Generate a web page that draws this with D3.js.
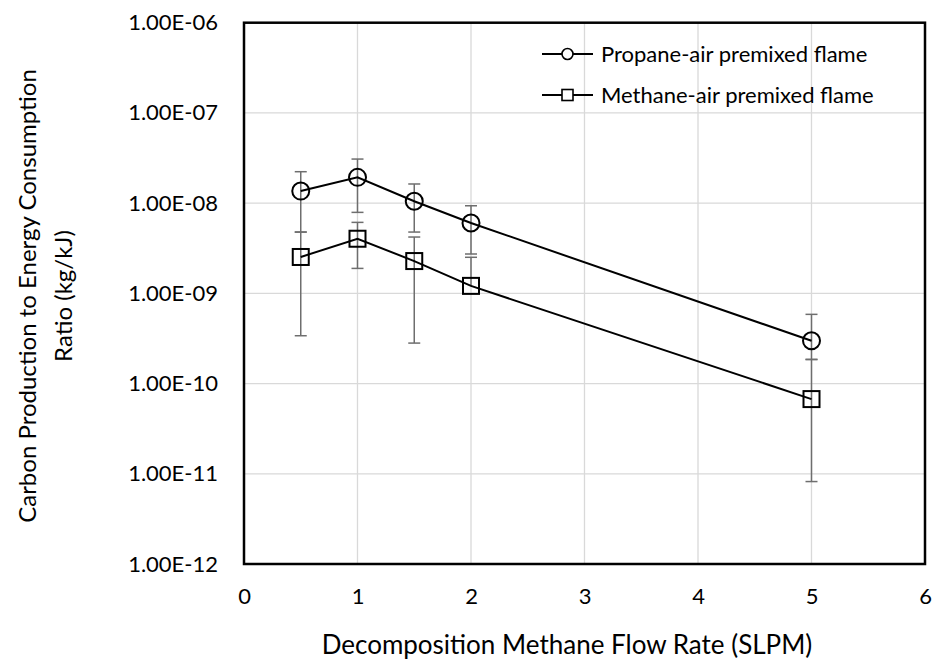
<!DOCTYPE html>
<html>
<head>
<meta charset="utf-8">
<script src="https://cdn.jsdelivr.net/npm/d3@7"></script>
<style>
  body { margin: 0; background: #fff; }
  text { font-family: Lato, "Open Sans", sans-serif; fill: #000; }
</style>
</head>
<body>
<svg id="chart" width="932" height="661"></svg>
<script>
// flow rates (SLPM)
var flowRates = [0.5, 1, 1.5, 2, 5];

// propane-air premixed flame
var propaneVals = [1.36e-8, 1.93e-8, 1.05e-8, 6.02e-9, 2.98e-10];
var propaneHi   = [2.23e-8, 3.08e-8, 1.63e-8, 9.35e-9, 5.85e-10];
var propaneLo   = [4.78e-9, 7.9e-9, 4.78e-9, 2.73e-9, 1.85e-10];

// methane-air premixed flame
var methaneVals = [2.53e-9, 4.03e-9, 2.28e-9, 1.21e-9, 6.73e-11];
var methaneHi   = [4.78e-9, 6.12e-9, 4.21e-9, 2.51e-9, 1.85e-10];
var methaneLo   = [3.39e-10, 1.89e-9, 2.81e-10, 1.21e-9, 8.2e-12];

var xTicks = [0, 1, 2, 3, 4, 5, 6];
var yTicks = [1e-12, 1e-11, 1e-10, 1e-9, 1e-8, 1e-7, 1e-6];
var yTickLabels = ["1.00E-12", "1.00E-11", "1.00E-10", "1.00E-09", "1.00E-08", "1.00E-07", "1.00E-06"];

var svg = d3.select("#chart");
var plotLeft = 244, plotRight = 925, plotTop = 22.7, plotBottom = 564;

var x = d3.scaleLinear().domain([0, 6]).range([plotLeft, plotRight]);
var y = d3.scaleLog().domain([1e-12, 1e-6]).range([plotBottom, plotTop]);

// gridlines
var grid = svg.append("g");
grid.selectAll(".gx").data(xTicks).enter().append("line")
  .attr("x1", function(d){ return x(d); }).attr("x2", function(d){ return x(d); })
  .attr("y1", plotTop).attr("y2", plotBottom)
  .attr("stroke", "#d9d9d9").attr("stroke-width", 1.3);
grid.selectAll(".gy").data(yTicks).enter().append("line")
  .attr("x1", plotLeft).attr("x2", plotRight)
  .attr("y1", function(d){ return y(d); }).attr("y2", function(d){ return y(d); })
  .attr("stroke", "#d9d9d9").attr("stroke-width", 1.3);

// axes (labels only, Excel style)
var xAxis = svg.append("g").attr("transform", "translate(0," + plotBottom + ")")
  .call(d3.axisBottom(x).tickValues(xTicks).tickSize(0).tickPadding(24).tickFormat(d3.format("d")));
xAxis.select(".domain").remove();
xAxis.selectAll("text").style("font-size", "22px").attr("font-family", null);

var yAxis = svg.append("g").attr("transform", "translate(" + plotLeft + ",0)")
  .call(d3.axisLeft(y).tickValues(yTicks).tickSize(0).tickPadding(26)
    .tickFormat(function(d, i){ return yTickLabels[i]; }));
yAxis.select(".domain").remove();
yAxis.selectAll("text").style("font-size", "22px").attr("font-family", null);

// plot border
svg.append("rect")
  .attr("x", plotLeft).attr("y", plotTop)
  .attr("width", plotRight - plotLeft).attr("height", plotBottom - plotTop)
  .attr("fill", "none").attr("stroke", "#000").attr("stroke-width", 2.5);

function drawSeries(vals, hi, lo, shape) {
  var g = svg.append("g");
  var pts = flowRates.map(function(f, i){ return { x: f, v: vals[i], hi: hi[i], lo: lo[i] }; });

  // error bars
  var eb = g.selectAll(".eb").data(pts).enter().append("g").attr("stroke", "#6e6e6e").attr("stroke-width", 1.5);
  eb.append("line")
    .attr("x1", function(d){ return x(d.x); }).attr("x2", function(d){ return x(d.x); })
    .attr("y1", function(d){ return y(d.hi); }).attr("y2", function(d){ return y(d.lo); });
  eb.append("line")
    .attr("x1", function(d){ return x(d.x) - 6; }).attr("x2", function(d){ return x(d.x) + 6; })
    .attr("y1", function(d){ return y(d.hi); }).attr("y2", function(d){ return y(d.hi); });
  eb.filter(function(d){ return d.lo < d.v; }).append("line")
    .attr("x1", function(d){ return x(d.x) - 6; }).attr("x2", function(d){ return x(d.x) + 6; })
    .attr("y1", function(d){ return y(d.lo); }).attr("y2", function(d){ return y(d.lo); });

  // line
  g.append("path").datum(pts)
    .attr("d", d3.line().x(function(d){ return x(d.x); }).y(function(d){ return y(d.v); }))
    .attr("fill", "none").attr("stroke", "#000").attr("stroke-width", 2);

  // markers
  if (shape === "circle") {
    g.selectAll(".m").data(pts).enter().append("circle")
      .attr("cx", function(d){ return x(d.x); }).attr("cy", function(d){ return y(d.v); })
      .attr("r", 8.5).attr("fill", "none").attr("stroke", "#000").attr("stroke-width", 2);
  } else {
    g.selectAll(".m").data(pts).enter().append("rect")
      .attr("x", function(d){ return x(d.x) - 8; }).attr("y", function(d){ return y(d.v) - 8; })
      .attr("width", 16).attr("height", 16)
      .attr("fill", "none").attr("stroke", "#000").attr("stroke-width", 2);
  }
}

drawSeries(propaneVals, propaneHi, propaneLo, "circle");
drawSeries(methaneVals, methaneHi, methaneLo, "square");

// legend
var legendItems = [
  { name: "Propane-air premixed flame", shape: "circle" },
  { name: "Methane-air premixed flame", shape: "square" }
];
var lg = svg.append("g");
legendItems.forEach(function(item, i){
  var ly = 54 + i * 41;
  lg.append("line").attr("x1", 542).attr("x2", 593).attr("y1", ly).attr("y2", ly)
    .attr("stroke", "#000").attr("stroke-width", 2);
  if (item.shape === "circle") {
    lg.append("circle").attr("cx", 567.5).attr("cy", ly).attr("r", 5.5)
      .attr("fill", "#fff").attr("stroke", "#000").attr("stroke-width", 1.6);
  } else {
    lg.append("rect").attr("x", 562).attr("y", ly - 5.5).attr("width", 11).attr("height", 11)
      .attr("fill", "#fff").attr("stroke", "#000").attr("stroke-width", 1.6);
  }
  lg.append("text").attr("x", 601).attr("y", ly).attr("dy", "0.35em")
    .style("font-size", "22px").text(item.name);
});

// axis titles
svg.append("text").attr("x", 567).attr("y", 645).attr("dy", "0.35em")
  .attr("text-anchor", "middle").style("font-size", "26px")
  .text("Decomposition Methane Flow Rate (SLPM)");

var yt = svg.append("text").attr("transform", "translate(28,296) rotate(-90)")
  .attr("text-anchor", "middle").style("font-size", "24px");
yt.append("tspan").attr("x", 0).attr("dy", "0.35em").text("Carbon Production to Energy Consumption");
yt.append("tspan").attr("x", 0).attr("dy", "1.47em").text("Ratio (kg/kJ)");
</script>
</body>
</html>
